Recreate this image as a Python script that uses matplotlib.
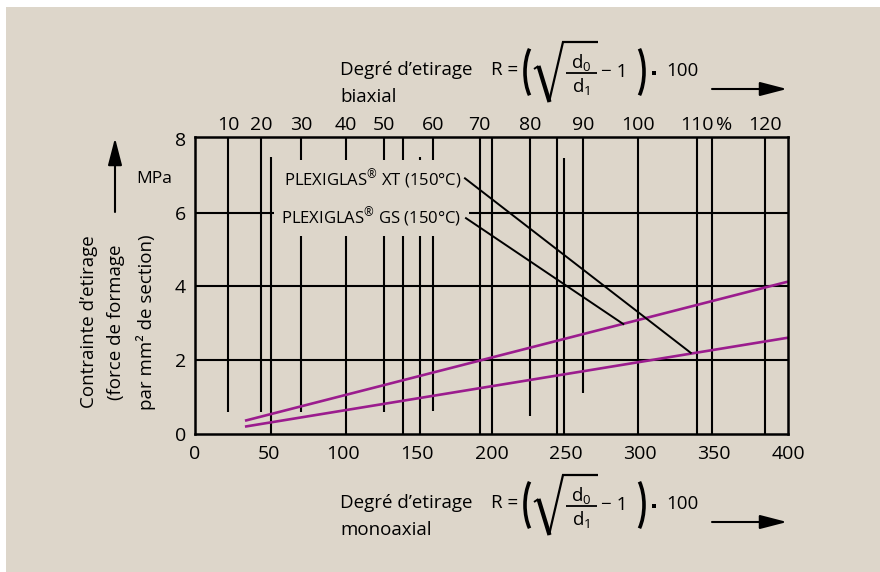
import numpy as np
import matplotlib
matplotlib.use("Agg")
import matplotlib.pyplot as plt
from matplotlib.patches import Rectangle, FancyArrowPatch, Arc
from matplotlib.lines import Line2D
from matplotlib import transforms

plt.rcParams['font.family'] = ['Open Sans', 'DejaVu Sans']
plt.rcParams['mathtext.fontset'] = 'custom'
plt.rcParams['mathtext.rm'] = 'Open Sans'
plt.rcParams['mathtext.it'] = 'Open Sans'
plt.rcParams['mathtext.bf'] = 'Open Sans:bold'

BG = '#DDD6CA'
PINK = '#9B1C8E'

# bottom axis (monoaxial) and left axis
mono_ticks = [0, 50, 100, 150, 200, 250, 300, 350, 400]
stress_ticks = [0, 2, 4, 6, 8]

# top axis (biaxial), positions read on the monoaxial scale
bi_labels = ['10', '20', '30', '40', '50', '60', '70', '80', '90', '100', '110', '120']
bi_pos = [22.5, 44.5, 71.5, 101.5, 127.5, 160.5, 192, 226, 262, 299, 338.5, 384.5]

# vertical rules: x, lower end, upper end
vline_x = [22.5, 44.3, 51, 71.5, 101.7, 127.5, 140, 151.8, 160.7, 192, 200.5,
           226, 244.4, 249, 262, 299, 338.4, 348.7, 384.5]
vline_y0 = [0.6, 0.6, 0, 0.6, 0, 0.6, 0, 0, 0.62, 0, 0,
            0.5, 0, 0, 1.1, 0, 0, 0, 0]
vline_y1 = [8.05, 8.05, 7.5, 8.05, 8.05, 8.05, 8.05, 7.52, 8.05, 8.05, 8.05,
            8.05, 8.05, 7.47, 8.05, 8.05, 8.05, 8.05, 8.05]
hline_y = [2, 4, 6]

# the two curves
upper_x = [33.7, 400]
upper_y = [0.36, 4.13]
lower_x = [33.7, 400]
lower_y = [0.20, 2.61]

# labels and their leader lines
xt_label = r'PLEXIGLAS$^{®}$ XT (150°C)'
gs_label = r'PLEXIGLAS$^{®}$ GS (150°C)'
xt_pos = (179.5, 6.91)
gs_pos = (179.5, 5.89)
xt_leader_x = [182.1, 334.4]
xt_leader_y = [6.93, 2.20]
gs_leader_x = [182.8, 288.9]
gs_leader_y = [5.85, 2.98]

W, H = 880, 572
fig = plt.figure(figsize=(W / 100, H / 100), dpi=100, facecolor='white')
fig.patches.append(Rectangle((6 / W, 0), 1, 1 - 7 / H, transform=fig.transFigure,
                             facecolor=BG, edgecolor='none', zorder=-10))


def fx(px):
    return px / W


def fy(py):
    return 1 - py / H


ax = fig.add_axes([fx(195), fy(434), 593 / W, 297 / H])
ax.set_facecolor('none')
ax.set_xlim(0, 400)
ax.set_ylim(0, 8.05)

ax.vlines(vline_x, vline_y0, vline_y1, color='black', lw=1.5, zorder=1)
ax.hlines(hline_y, 0, 400, color='black', lw=1.5, zorder=1)

ax.plot(upper_x, upper_y, color=PINK, lw=1.9, zorder=3, solid_capstyle='butt')
ax.plot(lower_x, lower_y, color=PINK, lw=1.9, zorder=3, solid_capstyle='butt')

box = dict(boxstyle='square,pad=0.45', facecolor=BG, edgecolor='none')
ax.text(xt_pos[0], xt_pos[1], xt_label, ha='right', va='center', fontsize=12,
        bbox=box, zorder=4)
ax.text(gs_pos[0], gs_pos[1], gs_label, ha='right', va='center', fontsize=12,
        bbox=box, zorder=4)
ax.plot(xt_leader_x, xt_leader_y, color='black', lw=1.4, zorder=5)
ax.plot(gs_leader_x, gs_leader_y, color='black', lw=1.4, zorder=5)

for s in ax.spines.values():
    s.set_linewidth(1.8)
    s.set_zorder(6)

ax.set_xticks(mono_ticks)
ax.set_yticks(stress_ticks)
ax.tick_params(axis='x', length=0, pad=7.8, labelsize=14)
ax.tick_params(axis='y', length=0, pad=6.5, labelsize=14)

trans = transforms.blended_transform_factory(ax.transAxes, ax.transData)
ax.text(-0.039, 6.91, 'MPa', transform=trans, ha='right', va='center', fontsize=12.5)

ax2 = ax.twiny()
ax2.set_xlim(0, 400)
ax2.set_xticks(bi_pos)
ax2.set_xticklabels(bi_labels)
ax2.tick_params(axis='x', length=0, pad=2.0, labelsize=14)
for s in ax2.spines.values():
    s.set_visible(False)
ax2.annotate('%', xy=(357, 1), xycoords=('data', 'axes fraction'),
             xytext=(0, 2.0), textcoords='offset points', ha='center', va='bottom',
             fontsize=14)

# y label and up arrow
fig.text(fx(118), fy(322), 'Contrainte d’etirage\n(force de formage\npar mm² de section)',
         rotation=90, ha='center', va='center', multialignment='center',
         linespacing=1.7, fontsize=13.5)

pix = transforms.IdentityTransform()


def arrow(x0, y0, x1, y1):
    fig.add_artist(FancyArrowPatch((fx(x0), fy(y0)), (fx(x1), fy(y1)),
                                   transform=fig.transFigure,
                                   arrowstyle='-|>,head_length=1.66,head_width=0.43',
                                   mutation_scale=10, lw=1.5, color='black',
                                   shrinkA=0, shrinkB=0))


def seg(xs, ys, lw):
    fig.add_artist(Line2D([fx(v) for v in xs], [fy(v) for v in ys],
                          transform=fig.transFigure, color='black', lw=lw,
                          solid_capstyle='butt', solid_joinstyle='miter'))


def paren(xc, yc, t1, t2):
    fig.add_artist(Arc((xc, H - yc), 36, 70, theta1=t1, theta2=t2,
                       transform=pix, color='black', lw=2.6))


def header(yc, word2):
    # "Degré d'etirage / biaxial" + R = ( sqrt(d0/d1) - 1 ) . 100  ->
    fig.text(fx(340), fy(yc - 2), 'Degré d’etirage', ha='left', va='center', fontsize=13.5)
    fig.text(fx(340), fy(yc + 25), word2, ha='left', va='center', fontsize=13.5)
    fig.text(fx(491), fy(yc - 2), 'R =', ha='left', va='center', fontsize=13.5)
    paren(543, yc, 120, 240)
    paren(626, yc, -60, 60)
    # radical sign
    seg([534, 538.5], [yc - 3, yc - 6], 1.4)
    seg([538.5, 549.5], [yc - 6, yc + 30], 3.0)
    seg([549, 563, 598], [yc + 30, yc - 30, yc - 30], 1.6)
    # fraction
    seg([565.5, 596.5], [yc + 1, yc + 1], 1.3)
    fig.text(fx(581), fy(yc - 4), r'$\mathrm{d}_0$', ha='center', va='baseline', fontsize=13.5)
    fig.text(fx(581), fy(yc + 20), r'$\mathrm{d}_1$', ha='center', va='baseline', fontsize=13.5)
    fig.text(fx(601), fy(yc), '− 1', ha='left', va='center', fontsize=13.5)
    fig.add_artist(Line2D([fx(654)], [fy(yc + 1)], transform=fig.transFigure,
                          marker='s', ms=3.3, mew=0, color='black', lw=0))
    fig.text(fx(666), fy(yc - 1), '100', ha='left', va='center', fontsize=13.5)
    arrow(712, yc + 17, 787, yc + 17)


header(72, 'biaxial')
header(505, 'monoaxial')

arrow(115, 212, 115, 138)

fig.savefig('out.png', dpi=100, facecolor='white')
